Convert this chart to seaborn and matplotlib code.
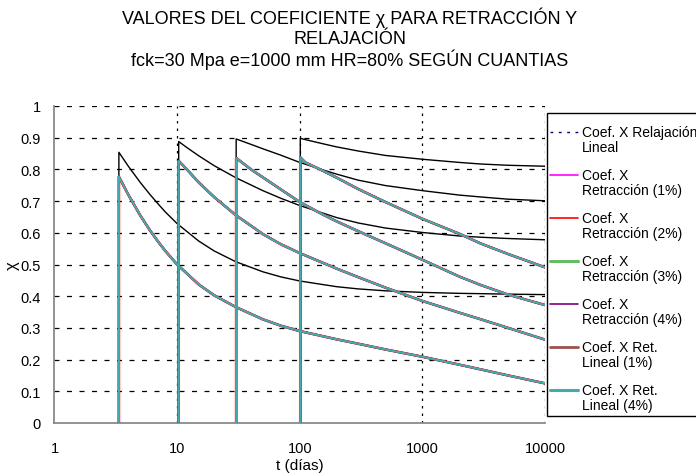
import matplotlib
matplotlib.use("Agg")
import numpy as np
import matplotlib.pyplot as plt
from matplotlib.lines import Line2D
from matplotlib.patches import Rectangle
from matplotlib.legend_handler import HandlerLine2D
from matplotlib.ticker import FixedLocator, FixedFormatter, NullLocator
import seaborn as sns
import pandas as pd

sns.set_style("white")
plt.rcParams['font.family'] = ['Liberation Sans', 'DejaVu Sans']
plt.rcParams['text.color'] = 'black'
plt.rcParams['axes.labelcolor'] = 'black'
plt.rcParams['xtick.labelcolor'] = 'black'
plt.rcParams['ytick.labelcolor'] = 'black'

# ---------------- data ----------------
# loading ages ~3, 10, 30, 100 days; the first point (chi = 0) draws the vertical
t_A = [3.35, 3.35, 4, 5, 6, 7, 8, 10, 15, 20, 30, 50, 70, 100, 200, 300, 500, 1000, 2000, 3000, 5000, 10000]
t_B = [10.3, 10.3, 12, 15, 20, 30, 50, 70, 100, 200, 300, 500, 1000, 2000, 3000, 5000, 10000]
t_C = [30.3, 30.3, 40, 50, 70, 100, 150, 200, 300, 500, 1000, 2000, 3000, 5000, 10000]
t_D = [101, 101, 111, 150, 200, 300, 500, 1000, 2000, 3000, 5000, 10000]

# Coef. X Relajación Lineal (black curves)
relax_A = [0, 0.854, 0.810, 0.759, 0.721, 0.691, 0.666, 0.629, 0.574, 0.543, 0.509, 0.477, 0.461, 0.448,
           0.430, 0.423, 0.417, 0.412, 0.409, 0.408, 0.4065, 0.405]
relax_B = [0, 0.888, 0.869, 0.843, 0.812, 0.774, 0.733, 0.709, 0.686, 0.648, 0.631, 0.615, 0.601, 0.590,
           0.586, 0.582, 0.578]
relax_C = [0, 0.896, 0.879, 0.865, 0.845, 0.822, 0.800, 0.785, 0.766, 0.749, 0.733, 0.719, 0.713, 0.706, 0.701]
relax_D = [0, 0.898, 0.894, 0.882, 0.871, 0.858, 0.844, 0.832, 0.822, 0.817, 0.813, 0.81]

# Coef. X Retracción / Ret. Lineal (coloured curves, practically coincident)
ret_A = [0, 0.777, 0.720, 0.655, 0.608, 0.572, 0.543, 0.500, 0.437, 0.403, 0.366, 0.327, 0.307, 0.290,
         0.264, 0.250, 0.232, 0.209, 0.184, 0.169, 0.150, 0.125]
ret_B = [0, 0.827, 0.80, 0.759, 0.713, 0.656, 0.596, 0.564, 0.536, 0.487, 0.46, 0.427, 0.385, 0.348,
         0.327, 0.30, 0.263]
ret_C = [0, 0.836, 0.80, 0.775, 0.737, 0.697, 0.66, 0.636, 0.605, 0.567, 0.515, 0.462, 0.435, 0.405, 0.372]
ret_D = [0, 0.838, 0.822, 0.798, 0.774, 0.738, 0.697, 0.644, 0.597, 0.566, 0.533, 0.491]

series_labels = ["Coef. X Relajación\nLineal", "Coef. X\nRetracción (1%)", "Coef. X\nRetracción (2%)",
                 "Coef. X\nRetracción (3%)", "Coef. X\nRetracción (4%)", "Coef. X Ret.\nLineal (1%)",
                 "Coef. X Ret.\nLineal (4%)"]
series_colors = ["#000080", "#FF00FF", "#FF0000", "#66BB66", "#800080", "#A05050", "#45AAAE"]

y_ticks = [0, 0.1, 0.2, 0.3, 0.4, 0.5, 0.6, 0.7, 0.8, 0.9, 1]
y_ticklabels = ["0", "0.1", "0.2", "0.3", "0.4", "0.5", "0.6", "0.7", "0.8", "0.9", "1"]
x_ticks = [1, 10, 100, 1000, 10000]
x_ticklabels = ["1", "10", "100", "1000", "10000"]

# ---------------- figure ----------------
W, H = 696, 477
fig = plt.figure(figsize=(W/100, H/100), dpi=100)
ax = fig.add_axes([54.5/W, 1-424/H, (545-54.5)/W, (424-107)/H])

groups_t = [t_A, t_B, t_C, t_D]
groups_relax = [relax_A, relax_B, relax_C, relax_D]
groups_ret = [ret_A, ret_B, ret_C, ret_D]

for t, r in zip(groups_t, groups_relax):
    df = pd.DataFrame({"t": t, "chi": r})
    sns.lineplot(data=df, x="t", y="chi", sort=False, estimator=None, color="black",
                 linewidth=1.0, ax=ax, zorder=3)

widths = [1.4, 1.9, 1.4, 1.4, 1.4, 1.4]
for col, lw in zip(series_colors[1:], widths):
    for t, r in zip(groups_t, groups_ret):
        df = pd.DataFrame({"t": t, "chi": r})
        sns.lineplot(data=df, x="t", y="chi", sort=False, estimator=None, color=col,
                     linewidth=lw, ax=ax, zorder=4)

ax.set_xscale("log")
ax.set_xlim(1, 10000)
ax.set_ylim(0, 1)
ax.xaxis.set_major_locator(FixedLocator(x_ticks))
ax.xaxis.set_major_formatter(FixedFormatter(x_ticklabels))
ax.xaxis.set_minor_locator(NullLocator())
ax.yaxis.set_major_locator(FixedLocator(y_ticks))
ax.yaxis.set_major_formatter(FixedFormatter(y_ticklabels))

for y in y_ticks[1:]:
    ax.axhline(y, color="black", linewidth=0.9, linestyle=(0, (4, 6)), zorder=1)
for x in x_ticks[1:]:
    ax.axvline(x, color="black", linewidth=0.9, linestyle=(0, (2, 4)), zorder=1)

for s in ["top", "right"]:
    ax.spines[s].set_visible(False)
for s in ["left", "bottom"]:
    ax.spines[s].set_color("#808080")
    ax.spines[s].set_linewidth(1.2)
ax.tick_params(axis="both", which="major", direction="out", length=4, width=1,
               color="#808080", labelsize=10.5, pad=6)
ax.tick_params(axis="x", pad=9)

ax.set_xlabel("t (días)", fontsize=11, labelpad=2)
ax.set_ylabel("χ", fontsize=12, labelpad=0)

fig.text(350/W, 1-18/H, "VALORES DEL COEFICIENTE χ PARA RETRACCIÓN Y", ha="center", va="center", fontsize=13)
fig.text(350/W, 1-39/H, "RELAJACIÓN", ha="center", va="center", fontsize=13)
fig.text(350/W, 1-60/H, "fck=30 Mpa e=1000 mm HR=80% SEGÚN CUANTIAS", ha="center", va="center", fontsize=13)

# legend frame (extends past the right edge like the reference)
fig.patches.append(Rectangle((547/W, 1-417/H), 160/W, (417-114)/H, transform=fig.transFigure,
                             facecolor="white", edgecolor="black", linewidth=1.0, zorder=1))


class TopLineHandler(HandlerLine2D):
    def create_artists(self, legend, orig_handle, xdescent, ydescent, width, height, fontsize, trans):
        arts = super().create_artists(legend, orig_handle, xdescent, ydescent, width, height, fontsize, trans)
        for a in arts:
            a.set_ydata(np.asarray(a.get_ydata()) + 0.55 * fontsize)
        return arts


handles = [Line2D([0], [0], color=series_colors[0], linewidth=1.0, linestyle=(0, (2, 4)))]
lw_leg = [1.2, 1.2, 2.2, 1.2, 2.0, 2.2]
for col, lw in zip(series_colors[1:], lw_leg):
    handles.append(Line2D([0], [0], color=col, linewidth=lw))
leg = fig.legend(handles, series_labels, loc="upper left", bbox_to_anchor=(550/W, 1-126/H),
                 fontsize=10, frameon=False, borderaxespad=0, borderpad=0,
                 handlelength=2.0, handletextpad=0.3, labelspacing=1.04,
                 handler_map={Line2D: TopLineHandler()})
for txt in leg.get_texts():
    txt.set_linespacing(1.05)
leg.set_zorder(5)

fig.savefig("out.png", dpi=100)
